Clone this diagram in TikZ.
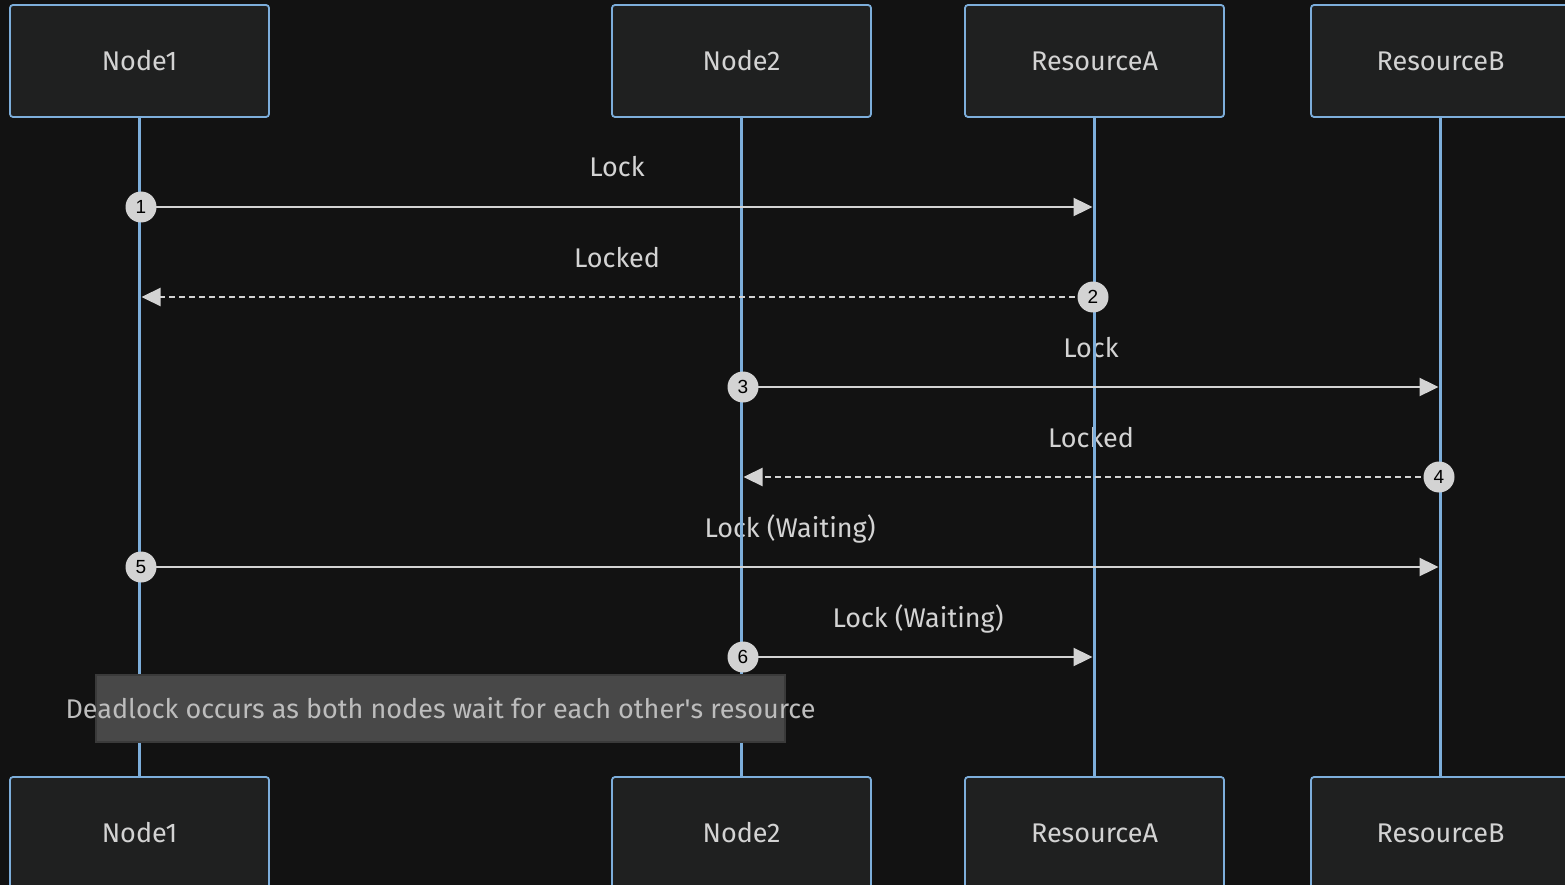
\documentclass[tikz,border=0pt]{standalone}
\usepackage{fontspec}
\setmainfont{Fira Sans}
\newfontfamily\numfont{Liberation Sans}
\usetikzlibrary{arrows.meta}

\definecolor{pagebg}{HTML}{121212}
\definecolor{actorbg}{HTML}{1F2020}
\definecolor{lifeblue}{HTML}{7DAEDB}
\definecolor{msggrey}{HTML}{D3D3D3}
\definecolor{notebg}{HTML}{484848}
\definecolor{noteedge}{HTML}{3A3A3A}
\definecolor{notetextc}{HTML}{BDBDBD}

\tikzset{
  actor/.style={draw=lifeblue, line width=1.8pt, fill=actorbg, rounded corners=3pt,
    minimum width=259pt, minimum height=112pt, inner sep=0pt,
    text=msggrey, font=\fontsize{27}{32}\selectfont},
  lifeline/.style={draw=lifeblue, line width=3pt},
  msglabel/.style={anchor=base, yshift=30pt, inner sep=0pt, text=msggrey,
    font=\fontsize{27}{32}\selectfont},
  msg/.style={draw=msggrey, line width=2.3pt, shorten >=2pt,
    -{Triangle[length=19pt,width=18pt]}},
  reply/.style={msg, dash pattern=on 6pt off 4pt},
  num/.style={circle, fill=msggrey, minimum size=31pt, inner sep=0pt,
    text=black, font=\numfont\fontsize{19}{22}\selectfont},
  notebox/.style={draw=noteedge, line width=1.5pt, fill=notebg,
    minimum width=689pt, minimum height=67pt, inner sep=0pt},
  notetext/.style={inner sep=0pt, text=notetextc, font=\fontsize{27}{32}\selectfont},
}

\begin{document}
\begin{tikzpicture}[x=1pt, y=-1pt]
  \useasboundingbox (0,0) rectangle (1565,885);
  \clip (0,0) rectangle (1565,885);
  \fill[pagebg] (0,0) rectangle (1565,885);

  % participants, top and bottom
  \node[actor] (n1) at (139.5,61) {Node1};
  \node[actor] (n2) at (741.5,61) {Node2};
  \node[actor] (rA) at (1094.5,61) {ResourceA};
  \node[actor] (rB) at (1440.5,61) {ResourceB};
  \node[actor] (n1b) at (139.5,833) {Node1};
  \node[actor] (n2b) at (741.5,833) {Node2};
  \node[actor] (rAb) at (1094.5,833) {ResourceA};
  \node[actor] (rBb) at (1440.5,833) {ResourceB};

  % message rows
  \coordinate (r1) at (0,207);
  \coordinate (r2) at (0,297);
  \coordinate (r3) at (0,387);
  \coordinate (r4) at (0,477);
  \coordinate (r5) at (0,567);
  \coordinate (r6) at (0,657);

  % message labels
  \path (r1 -| n1) -- (r1 -| rA) node[midway, msglabel] {Lock};
  \path (r2 -| rA) -- (r2 -| n1) node[midway, msglabel] {Locked};
  \path (r3 -| n2) -- (r3 -| rB) node[midway, msglabel] {Lock};
  \path (r4 -| rB) -- (r4 -| n2) node[midway, msglabel] {Locked};
  \path (r5 -| n1) -- (r5 -| rB) node[midway, msglabel] {Lock (Waiting)};
  \path (r6 -| n2) -- (r6 -| rA) node[midway, msglabel] {Lock (Waiting)};

  % lifelines
  \draw[lifeline] (n1.south) -- (n1b.north);
  \draw[lifeline] (n2.south) -- (n2b.north);
  \draw[lifeline] (rA.south) -- (rAb.north);
  \draw[lifeline] (rB.south) -- (rBb.north);

  % note
  \node[notebox] (note) at (440.5,708.5) {};
  \node[notetext] (notet) at (note.center) {Deadlock occurs as both nodes wait for each other\textquotesingle s resource};

  % messages
  \draw[msg]   (r1 -| n1) -- (r1 -| rA);
  \draw[reply] (r2 -| rA) -- (r2 -| n1);
  \draw[msg]   (r3 -| n2) -- (r3 -| rB);
  \draw[reply] (r4 -| rB) -- (r4 -| n2);
  \draw[msg]   (r5 -| n1) -- (r5 -| rB);
  \draw[msg]   (r6 -| n2) -- (r6 -| rA);

  % sequence numbers
  \node[num] (c1) at ([xshift=1.5pt]r1 -| n1) {1};
  \node[num] (c2) at ([xshift=-1.5pt]r2 -| rA) {2};
  \node[num] (c3) at ([xshift=1.5pt]r3 -| n2) {3};
  \node[num] (c4) at ([xshift=-1.5pt]r4 -| rB) {4};
  \node[num] (c5) at ([xshift=1.5pt]r5 -| n1) {5};
  \node[num] (c6) at ([xshift=1.5pt]r6 -| n2) {6};
\end{tikzpicture}
\end{document}
